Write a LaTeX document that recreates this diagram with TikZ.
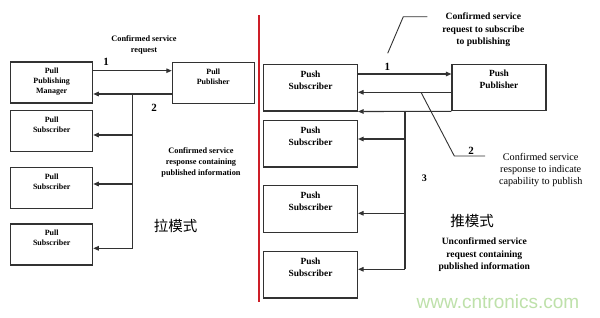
\documentclass[tikz,border=0pt]{standalone}
\usepackage{fontspec}
\setmainfont{Liberation Serif}
\setsansfont{Liberation Sans}
\newfontfamily\cjk{Noto Sans CJK SC}
\usetikzlibrary{arrows.meta,positioning}
\definecolor{lncol}{RGB}{50,50,50}
\definecolor{redln}{RGB}{205,30,40}
\definecolor{wmark}{RGB}{190,225,170}
\tikzset{
  box/.style={draw=lncol, line width=1.1pt, rectangle, inner sep=0pt},
  lbox/.style={box, minimum width=82pt, minimum height=41pt},
  rbox/.style={box, minimum width=94pt, minimum height=46.5pt},
  ltxt/.style={anchor=north, inner sep=0pt, align=center, font=\bfseries\fontsize{8}{10}\selectfont},
  rtxt/.style={anchor=north, inner sep=0pt, align=center, font=\bfseries\fontsize{9.4}{12}\selectfont},
  conn/.style={draw=lncol, line width=1.1pt},
  arr/.style={conn, -{Triangle[length=5.5pt,width=4.5pt]}},
  num/.style={inner sep=0pt, font=\bfseries\fontsize{11}{11}\selectfont},
  lbl/.style={inner sep=0pt, align=center, font=\bfseries\fontsize{8.3}{11}\selectfont},
  rlbl/.style={inner sep=0pt, align=center, font=\bfseries\fontsize{9.6}{12.5}\selectfont},
  rlblr/.style={inner sep=0pt, align=center, font=\fontsize{10.2}{12.2}\selectfont},
  cn/.style={inner sep=0pt, font=\cjk\fontsize{14.5}{14.5}\selectfont},
}
\begin{document}
\begin{tikzpicture}[x=1pt,y=-1pt]
\useasboundingbox[fill=white] (0,0) rectangle (600,317);

% red divider
\coordinate (rtop) at (259,15);
\coordinate (rbot) at (259,302);
\draw[redln, line width=2pt] (rtop) -- (rbot);

% ---------- Pull side ----------
\node[lbox] (ppm) at (51.7,82.5) {};
\node[ltxt] (ppmt) at ([yshift=-6.5pt]ppm.north) {Pull\\Publishing\\Manager};
\node[lbox] (pp) at (213.3,83) {};
\node[ltxt] (ppt) at ([yshift=-6.5pt]pp.north) {Pull\\Publisher};
\node[lbox] (pls1) at (51.7,131.3) {};
\node[ltxt] (pls1t) at ([yshift=-6.5pt]pls1.north) {Pull\\Subscriber};
\node[lbox] (pls2) at (51.7,188) {};
\node[ltxt] (pls2t) at ([yshift=-6.5pt]pls2.north) {Pull\\Subscriber};
\node[lbox] (pls3) at (51.7,244.5) {};
\node[ltxt] (pls3t) at ([yshift=-6.5pt]pls3.north) {Pull\\Subscriber};

\draw[arr] (ppm.east |- 0,70.7) -- (pp.west |- 0,70.7);
\draw[arr] (pp.west |- 0,94) -- (ppm.east |- 0,94);
\coordinate (lbus) at (132.7,94);
\coordinate (lbusend) at (132.7,248.3);
\draw[conn] (lbus) -- (lbusend);
\draw[arr] (lbus |- 0,135) -- (pls1.east |- 0,135);
\draw[arr] (lbus |- 0,184) -- (pls2.east |- 0,184);
\draw[arr] (lbusend) -- (pls3.east |- lbusend);

\node[num] (l1) at (106,61.5) {1};
\node[num] (l2) at (154,108) {2};
\node[lbl] (lreq) at (144,44.5) {Confirmed service\\request};
\node[lbl] (lresp) at (201,162.7) {Confirmed service\\response containing\\published information};
\node[cn] (la) at (175.5,226) {拉模式};

% ---------- Push side ----------
\node[rbox] (ps1) at (310.5,87.7) {};
\node[rtxt] (ps1t) at ([yshift=-6.5pt]ps1.north) {Push\\Subscriber};
\node[rbox] (pub) at (499,87.5) {};
\node[rtxt] (pubt) at ([yshift=-6.5pt]pub.north) {Push\\Publisher};
\node[rbox] (ps2) at (310.5,143.7) {};
\node[rtxt] (ps2t) at ([yshift=-6.5pt]ps2.north) {Push\\Subscriber};
\node[rbox] (ps3) at (310.5,209) {};
\node[rtxt] (ps3t) at ([yshift=-6.5pt]ps3.north) {Push\\Subscriber};
\node[rbox] (ps4) at (310.5,274.7) {};
\node[rtxt] (ps4t) at ([yshift=-6.5pt]ps4.north) {Push\\Subscriber};

\draw[arr] (ps1.east |- 0,74) -- (pub.west |- 0,74);
\draw[arr] (pub.west |- 0,92.3) -- (ps1.east |- 0,92.3);
\draw[arr] (pub.south west) -- (ps1.south east);
\coordinate (rbus) at (405,110.9);
\coordinate (rbusend) at (405,269.3);
\draw[conn] (rbus) -- (rbusend);
\draw[arr] (rbus |- 0,139) -- (ps2.east |- 0,139);
\draw[arr] (rbus |- 0,213.3) -- (ps3.east |- 0,213.3);
\draw[arr] (rbusend) -- (ps4.east |- rbusend);

% leader lines
\coordinate (ld1a) at (387.7,53.3);
\coordinate (ld1b) at (403.3,16.7);
\coordinate (ld1c) at (427.3,16.7);
\draw[conn, line width=0.9pt] (ld1a) -- (ld1b) -- (ld1c);
\coordinate (ld2a) at (421,92.3);
\coordinate (ld2b) at (454.3,156);
\coordinate (ld2c) at (485,156);
\draw[conn, line width=0.9pt] (ld2a) -- (ld2b) -- (ld2c);

\node[num] (r1) at (387.3,66.7) {1};
\node[num] (r2) at (471,151) {2};
\node[num, font=\bfseries\fontsize{10}{10}\selectfont] (r3) at (424.3,178.3) {3};
\node[rlbl] (rreq) at (483.3,30) {Confirmed service\\request to subscribe\\to publishing};
\node[rlblr] (rresp) at (540.7,170.3) {Confirmed service\\response to indicate\\capability to publish};
\node[rlbl] (runc) at (484.3,254.7) {Unconfirmed service\\request containing\\published information};
\node[cn] (tui) at (472,221) {推模式};

% watermark
\node[inner sep=0pt, text=wmark, font=\sffamily\fontsize{19}{19}\selectfont] (wm) at (498,301.5) {www.cntronics.com};
\end{tikzpicture}
\end{document}
